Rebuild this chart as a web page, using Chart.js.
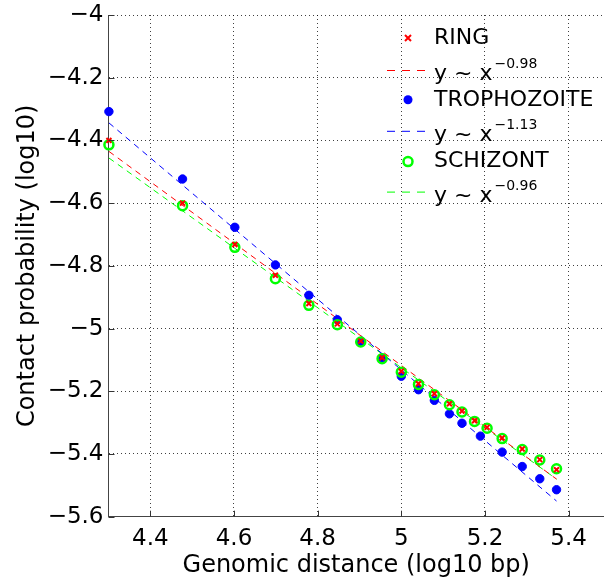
<!DOCTYPE html>
<html lang="en">
<head>
    <meta charset="UTF-8">
    <title>Contact probability vs genomic distance</title>
    <script src="https://cdn.jsdelivr.net/npm/chart.js"></script>
    <style>
        html, body { margin: 0; padding: 0; background: #fff; }
        canvas { display: block; }
    </style>
</head>
<body>
    <canvas id="decayChart" width="604" height="583"></canvas>

    <script>
        // genomic distance bins (log10 bp)
        const distRing = [4.301, 4.477, 4.602, 4.699, 4.779, 4.847, 4.903, 4.954, 5.000, 5.041, 5.079, 5.115, 5.145, 5.175, 5.205, 5.241, 5.289, 5.331, 5.371];
        const distTropho = [4.301, 4.477, 4.602, 4.699, 4.779, 4.847, 4.903, 4.954, 5.000, 5.041, 5.079, 5.115, 5.145, 5.189, 5.241, 5.289, 5.331, 5.371];
        const distSchizont = [4.301, 4.477, 4.602, 4.699, 4.779, 4.847, 4.903, 4.954, 5.000, 5.041, 5.079, 5.115, 5.145, 5.175, 5.205, 5.241, 5.289, 5.331, 5.371];

        // contact probability (log10)
        const probRing = [-4.400, -4.600, -4.732, -4.830, -4.920, -4.985, -5.040, -5.093, -5.136, -5.176, -5.208, -5.240, -5.263, -5.294, -5.315, -5.349, -5.384, -5.418, -5.450];
        const probTropho = [-4.308, -4.523, -4.677, -4.797, -4.894, -4.972, -5.043, -5.094, -5.152, -5.195, -5.229, -5.272, -5.302, -5.343, -5.394, -5.440, -5.479, -5.514];
        const probSchizont = [-4.414, -4.608, -4.741, -4.841, -4.926, -4.988, -5.043, -5.096, -5.139, -5.178, -5.211, -5.243, -5.266, -5.296, -5.318, -5.351, -5.386, -5.419, -5.447];

        // power-law fits, start and end of each dashed line
        const fitX = [4.301, 5.371];
        const fitRing = [-4.435, -5.480];
        const fitTropho = [-4.344, -5.550];
        const fitSchizont = [-4.456, -5.480];

        const seriesNames = ['RING', 'TROPHOZOITE', 'SCHIZONT'];
        const fitExponents = ['\u22120.98', '\u22121.13', '\u22120.96'];
        const seriesColors = ['#ff0000', '#0000ff', '#00ff00'];

        const xTickValues = [4.4, 4.6, 4.8, 5.0, 5.2, 5.4];
        const xTickLabels = ['4.4', '4.6', '4.8', '5', '5.2', '5.4'];
        const yTickValues = [-4.0, -4.2, -4.4, -4.6, -4.8, -5.0, -5.2, -5.4, -5.6];
        const yTickLabels = ['\u22124', '\u22124.2', '\u22124.4', '\u22124.6', '\u22124.8', '\u22125', '\u22125.2', '\u22125.4', '\u22125.6'];

        const FONT = '"DejaVu Sans", sans-serif';

        function toPoints(xs, ys) {
            return ys.map((y, i) => ({ x: xs[i], y: y }));
        }

        // small ticks pointing into the plot, like matlab
        const innerTicks = {
            id: 'innerTicks',
            afterDraw(chart) {
                const ctx = chart.ctx;
                const area = chart.chartArea;
                const xs = chart.scales.x;
                const ys = chart.scales.y;
                ctx.save();
                ctx.strokeStyle = '#333';
                ctx.lineWidth = 1;
                ctx.beginPath();
                xTickValues.forEach(v => {
                    const px = Math.round(xs.getPixelForValue(v)) + 0.5;
                    ctx.moveTo(px, area.bottom);
                    ctx.lineTo(px, area.bottom - 6);
                });
                yTickValues.forEach(v => {
                    const py = Math.round(ys.getPixelForValue(v)) + 0.5;
                    ctx.moveTo(area.left, py);
                    ctx.lineTo(area.left + 6, py);
                });
                ctx.stroke();
                ctx.restore();
            }
        };

        function drawMarker(ctx, i, x, y) {
            ctx.save();
            ctx.strokeStyle = seriesColors[i];
            ctx.fillStyle = seriesColors[i];
            ctx.beginPath();
            if (i === 0) {
                ctx.lineWidth = 2;
                ctx.moveTo(x - 3, y - 3); ctx.lineTo(x + 3, y + 3);
                ctx.moveTo(x - 3, y + 3); ctx.lineTo(x + 3, y - 3);
                ctx.stroke();
            } else if (i === 1) {
                ctx.arc(x, y, 4.5, 0, Math.PI * 2);
                ctx.fill();
            } else {
                ctx.lineWidth = 2.5;
                ctx.arc(x, y, 4.5, 0, Math.PI * 2);
                ctx.stroke();
            }
            ctx.restore();
        }

        // legend with the fitted exponents as superscripts
        const fitLegend = {
            id: 'fitLegend',
            afterDraw(chart) {
                const ctx = chart.ctx;
                ctx.save();
                seriesNames.forEach((name, i) => {
                    const yName = 38 + i * 61.8;
                    const yFit = 70 + i * 60.8;

                    drawMarker(ctx, i, 408, yName);
                    ctx.fillStyle = '#000';
                    ctx.font = '22px ' + FONT;
                    ctx.textBaseline = 'middle';
                    ctx.fillText(name, 434, yName);

                    ctx.strokeStyle = seriesColors[i];
                    ctx.lineWidth = 1;
                    ctx.setLineDash([8, 7]);
                    ctx.beginPath();
                    ctx.moveTo(387, yFit + 0.5);
                    ctx.lineTo(431, yFit + 0.5);
                    ctx.stroke();
                    ctx.setLineDash([]);

                    ctx.textBaseline = 'alphabetic';
                    ctx.fillText('y ~ x', 434, yFit + 10);
                    const w = ctx.measureText('y ~ x').width;
                    ctx.font = '14px ' + FONT;
                    ctx.fillText(fitExponents[i], 434 + w + 2, yFit - 2);
                });
                ctx.restore();
            }
        };

        const ctx = document.getElementById('decayChart').getContext('2d');

        new Chart(ctx, {
            type: 'scatter',
            data: {
                datasets: [
                    {
                        label: seriesNames[0],
                        data: toPoints(distRing, probRing),
                        pointStyle: 'crossRot',
                        pointRadius: 3.5,
                        borderWidth: 2,
                        borderColor: seriesColors[0],
                        backgroundColor: seriesColors[0],
                        clip: false,
                        order: 0
                    },
                    {
                        label: seriesNames[2],
                        data: toPoints(distSchizont, probSchizont),
                        pointStyle: 'circle',
                        pointRadius: 4.5,
                        borderWidth: 2.5,
                        borderColor: seriesColors[2],
                        backgroundColor: 'rgba(0,0,0,0)',
                        clip: false,
                        order: 1
                    },
                    {
                        label: seriesNames[1],
                        data: toPoints(distTropho, probTropho),
                        pointStyle: 'circle',
                        pointRadius: 4.2,
                        borderWidth: 1,
                        borderColor: seriesColors[1],
                        backgroundColor: seriesColors[1],
                        clip: false,
                        order: 2
                    },
                    {
                        label: 'fit ring',
                        data: toPoints(fitX, fitRing),
                        showLine: true,
                        borderColor: seriesColors[0],
                        borderWidth: 1,
                        borderDash: [6, 5],
                        pointRadius: 0,
                        order: 3
                    },
                    {
                        label: 'fit trophozoite',
                        data: toPoints(fitX, fitTropho),
                        showLine: true,
                        borderColor: seriesColors[1],
                        borderWidth: 1,
                        borderDash: [6, 5],
                        pointRadius: 0,
                        order: 4
                    },
                    {
                        label: 'fit schizont',
                        data: toPoints(fitX, fitSchizont),
                        showLine: true,
                        borderColor: seriesColors[2],
                        borderWidth: 1,
                        borderDash: [6, 5],
                        pointRadius: 0,
                        order: 5
                    }
                ]
            },
            options: {
                responsive: false,
                animation: false,
                events: [],
                layout: { autoPadding: false, padding: { top: 15, right: 0, bottom: 0, left: 0 } },
                plugins: {
                    legend: { display: false },
                    tooltip: { enabled: false }
                },
                scales: {
                    x: {
                        type: 'linear',
                        min: 4.3,
                        max: 5.4845,
                        afterBuildTicks: scale => {
                            scale.ticks = xTickValues.map(v => ({ value: v }));
                        },
                        afterFit: scale => {
                            scale.height = 66.3;
                            scale.paddingLeft = 0;
                            scale.paddingRight = 0;
                        },
                        ticks: {
                            color: '#000',
                            padding: 9,
                            font: { family: FONT, size: 23 },
                            callback: (v, i) => xTickLabels[i]
                        },
                        grid: {
                            color: 'rgba(0,0,0,0.75)',
                            lineWidth: 1,
                            drawTicks: false
                        },
                        border: { display: true, color: '#444', width: 1, dash: [1, 3] },
                        title: {
                            display: true,
                            text: 'Genomic distance (log10 bp)',
                            color: '#000',
                            font: { family: FONT, size: 24 },
                            padding: { top: 0, bottom: 3 }
                        }
                    },
                    y: {
                        type: 'linear',
                        min: -5.6,
                        max: -4,
                        afterBuildTicks: scale => {
                            scale.ticks = yTickValues.map(v => ({ value: v }));
                        },
                        afterFit: scale => {
                            scale.width = 108.5;
                            scale.paddingTop = 0;
                            scale.paddingBottom = 0;
                        },
                        ticks: {
                            color: '#000',
                            padding: 5,
                            font: { family: FONT, size: 23 },
                            callback: (v, i) => yTickLabels[i]
                        },
                        grid: {
                            color: 'rgba(0,0,0,0.75)',
                            lineWidth: 1,
                            drawTicks: false
                        },
                        border: { display: true, color: '#444', width: 1, dash: [1, 3] },
                        title: {
                            display: true,
                            text: 'Contact probability (log10)',
                            color: '#000',
                            font: { family: FONT, size: 24 },
                            padding: { top: 13, bottom: 0 }
                        }
                    }
                }
            },
            plugins: [innerTicks, fitLegend]
        });
    </script>
</body>
</html>
